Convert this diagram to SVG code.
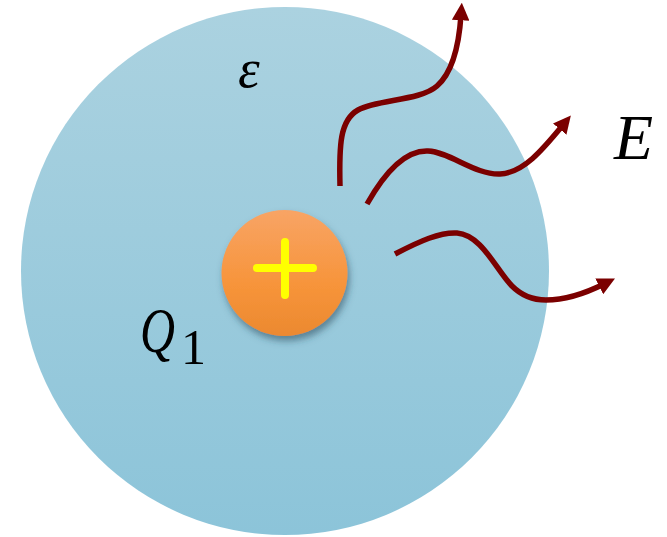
<svg xmlns="http://www.w3.org/2000/svg" width="667" height="537" viewBox="0 0 667 537">
  <defs>
    <linearGradient id="gBig" x1="0" y1="0" x2="0" y2="1">
      <stop offset="0" stop-color="#abd2e0"/>
      <stop offset="1" stop-color="#8cc4d9"/>
    </linearGradient>
    <linearGradient id="gCharge" x1="0" y1="0" x2="0" y2="1">
      <stop offset="0" stop-color="#f8a465"/>
      <stop offset="0.6" stop-color="#f7943a"/>
      <stop offset="1" stop-color="#eb8930"/>
    </linearGradient>
    <filter id="shadow" x="-30%" y="-30%" width="160%" height="170%">
      <feDropShadow dx="2" dy="5" stdDeviation="3.5" flood-color="#2a4a5a" flood-opacity="0.55"/>
    </filter>
    <marker id="arrow" viewBox="0 0 10 10" refX="3" refY="5" markerWidth="3.2" markerHeight="3.2" orient="auto" markerUnits="strokeWidth">
      <path d="M0,0 L10,5 L0,10 Z" fill="#7b0000"/>
    </marker>
    <style>
      .wave { fill: none; stroke: #7b0000; stroke-width: 5.5; marker-end: url(#arrow); }
      .math { font-family: "Liberation Serif", "DejaVu Serif", serif; font-style: italic; fill: #000; }
      .num { font-family: "Liberation Serif", "DejaVu Serif", serif; font-style: normal; fill: #000; }
    </style>
  </defs>

  <g id="medium">
    <circle cx="285" cy="271" r="264" fill="url(#gBig)"/>
  </g>

  <g id="charge">
    <circle cx="284.5" cy="273" r="63" fill="url(#gCharge)" filter="url(#shadow)"/>
    <path d="M285,242 V295 M257,268 H313" stroke="#ffff00" stroke-width="8" stroke-linecap="round" fill="none"/>
  </g>

  <g id="connectors">
    <path class="wave" d="M340,186 C339,145 340,120 358,110 C378,99 420,101 437,86 C453,72 459,45 461,15"/>
    <path class="wave" d="M367,204 C385,172 405,150 428,151 C450,152 475,175 500,174 C524,173 544,148 563,125"/>
    <path class="wave" d="M395,254 C420,241 440,232 457,233 C482,235 496,270 512,286 C522,296 532,300 546,300 C568,300 588,292 604,284"/>
  </g>

  <g id="labels">
    <text class="math" x="238" y="87" font-size="55">ε</text>
    <text class="math" x="614" y="159" font-size="64">E</text>
    <text class="math" x="140" y="352" font-size="64" textLength="35" lengthAdjust="spacingAndGlyphs">Q</text>
    <text class="num" x="181" y="364" font-size="50">1</text>
  </g>
</svg>
